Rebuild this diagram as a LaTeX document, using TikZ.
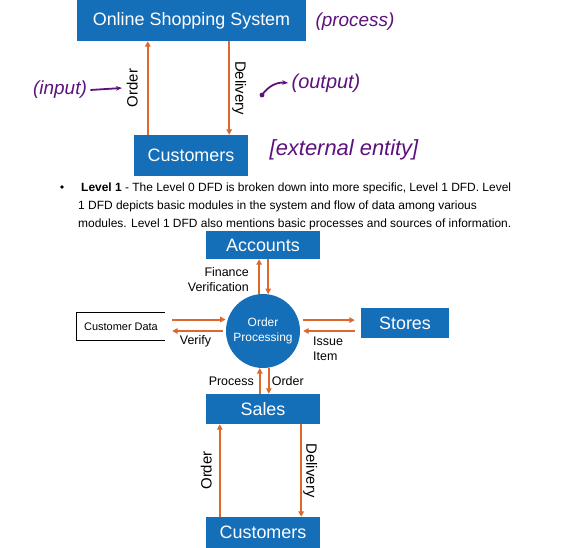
\documentclass[tikz,border=0pt]{standalone}
\usepackage{fontspec}
\setmainfont{Liberation Sans}
\usetikzlibrary{arrows.meta}

\definecolor{dfdblue}{RGB}{21,110,184}
\definecolor{dfdorange}{RGB}{221,104,44}
\definecolor{penpurple}{RGB}{92,18,124}

\tikzset{
  box/.style={fill=dfdblue, text=white, inner sep=0pt, font=\fontsize{18}{20}\selectfont},
  flow/.style={draw=dfdorange, line width=2bp, -{Triangle[length=5.5bp,width=5.5bp]}},
  lbl/.style={font=\fontsize{12.5}{15}\selectfont, inner sep=1pt},
  vlbl/.style={font=\fontsize{15}{17}\selectfont, inner sep=2pt, anchor=south},
  para/.style={font=\fontsize{12}{14}\selectfont, inner sep=0pt, anchor=base west},
  note/.style={text=penpurple, font=\fontsize{19}{21}\selectfont\itshape},
  pen/.style={draw=penpurple, line width=1.8bp, -{Stealth[length=6bp]}},
}

\begin{document}
\begin{tikzpicture}[x=1bp, y=-1bp]
    \useasboundingbox (0,0) rectangle (564,548);

    % Level 0
    \node[box, minimum width=229bp, minimum height=41bp] (oss) at (191.5,20.5) {Online Shopping System};
    \node[box, minimum width=114bp, minimum height=41bp] (cust) at (191,155.5) {Customers};
    \draw[flow] ([xshift=14bp]cust.north west) -- ([xshift=14bp]cust.north west |- oss.south)
        node[vlbl, midway, rotate=90, outer sep=8bp] {Order};
    \draw[flow] ([xshift=-19bp]cust.north east |- oss.south) -- ([xshift=-19bp]cust.north east)
        node[vlbl, midway, rotate=-90, outer sep=1bp] {Delivery};

    % handwritten notes
    \node[note] (proc) at (355,22) {(process)};
    \node[note] (inp) at (60,90) {(input)};
    \coordinate (inpTip) at (122,88);
    \draw[pen] (inp.east) -- (inpTip);
    \node[note, font=\fontsize{20}{22}\selectfont\itshape] (outp) at (326,83) {(output)};
    \coordinate (outDot) at (262,95);
    \fill[penpurple] (outDot) circle (2.4bp);
    \draw[pen] (outDot) to[bend left=30] (outp.west);
    \node[note, font=\fontsize{22}{24}\selectfont\itshape] (ext) at (344,150) {[external entity]};

    % Level 1 text
    \fill (62,187) circle (1.8bp);
    \node[para] (l1) at (81,191.5) {\textbf{Level 1} - The Level 0 DFD is broken down into more specific, Level 1 DFD. Level};
    \node[para] (l2) at (78,209.5) {1 DFD depicts basic modules in the system and flow of data among various};
    \node[para] (l3) at (78,227.5) {modules. Level 1 DFD also mentions basic processes and sources of information.};

    % Level 1
    \node[box, minimum width=114bp, minimum height=28bp] (acc) at (263,245) {Accounts};
    \node[circle, fill=dfdblue, text=white, minimum size=74bp, inner sep=0pt, align=center,
          font=\fontsize{12}{15}\selectfont] (op) at (263,331) {Order\\Processing};
    \node[box, minimum width=88bp, minimum height=30bp] (sto) at (405,323) {Stores};
    \node[box, minimum width=114bp, minimum height=30bp] (sal) at (263,409) {Sales};
    \node[box, minimum width=114bp, minimum height=31bp] (cust2) at (263,532.5) {Customers};
    \node[minimum width=88bp, minimum height=27bp, inner sep=0pt,
          font=\fontsize{11}{13}\selectfont] (cd) at (121,326.5) {Customer Data};
    \draw[line width=1.3bp] (cd.north east) -- (cd.north west) -- (cd.south west) -- (cd.south east);

    \draw[flow] (op.96.2) -- (op.96.2 |- acc.south);
    \draw[flow] (acc.south -| op.82.2) -- (op.82.2);
    \node[lbl, align=right, anchor=east] (fv) at (250,279.5) {Finance\\Verification};

    \draw[flow, shorten <=7bp, shorten >=2bp] (cd.east |- op.162.7) -- (op.162.7);
    \draw[flow, shorten <=3bp, shorten >=7bp] (op.west) -- (cd.east |- op.west)
        node[lbl, midway, below=2bp] {Verify};
    \draw[flow, shorten <=4bp, shorten >=6bp] (op.17.3) -- (op.17.3 -| sto.west);
    \draw[flow, shorten <=6bp, shorten >=3bp] (sto.west |- op.east) -- (op.east);
    \node[lbl, align=left, anchor=north west] (ii) at (312,336) {Issue\\Item};

    \draw[flow] (sal.north -| op.265.4) -- (op.265.4)
        node[lbl, midway, left=4bp] {Process};
    \draw[flow] (op.279.3) -- (op.279.3 |- sal.north)
        node[lbl, midway, right=1bp] {Order};

    \draw[flow] ([xshift=14bp]cust2.north west) -- ([xshift=14bp]cust2.north west |- sal.south)
        node[vlbl, midway, rotate=90, outer sep=6bp] {Order};
    \draw[flow] ([xshift=-19bp]cust2.north east |- sal.south) -- ([xshift=-19bp]cust2.north east)
        node[vlbl, midway, rotate=-90, outer sep=0bp] {Delivery};
\end{tikzpicture}
\end{document}
